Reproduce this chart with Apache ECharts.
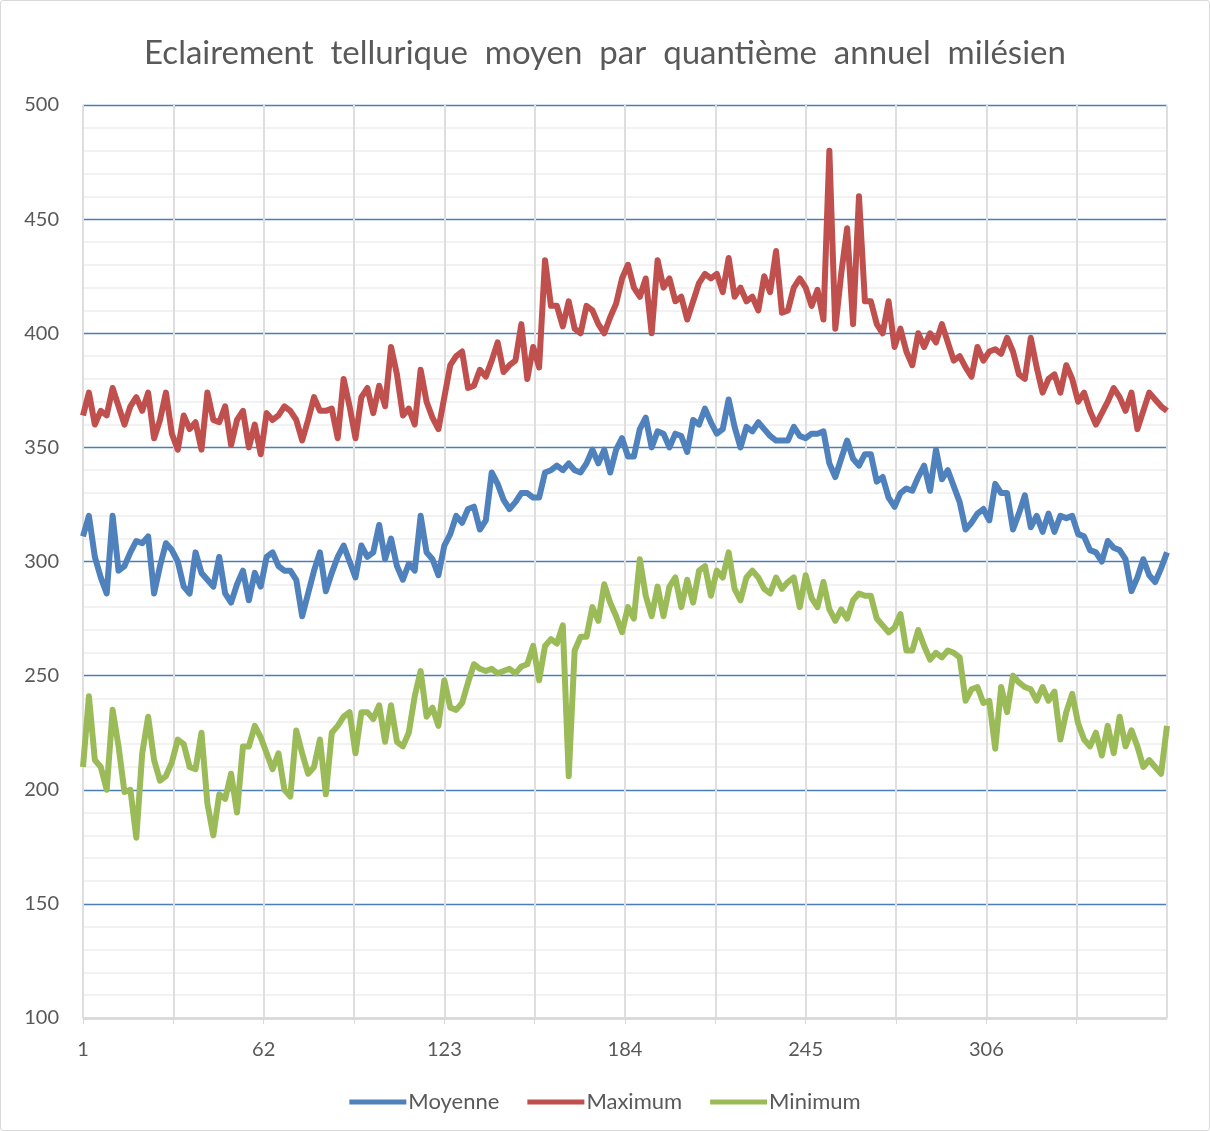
<!DOCTYPE html>
<html>
<head>
<meta charset="utf-8">
<script src="https://cdn.jsdelivr.net/npm/echarts@6/dist/echarts.min.js"></script>
<style>
  html, body { margin: 0; padding: 0; background: #fff; }
  #eclairement { width: 1210px; height: 1131px; box-sizing: border-box; border: 1px solid #d9d9d9; border-radius: 3px; }
</style>
</head>
<body>
<div id="eclairement"></div>
<script>
  // une valeur tous les deux quantièmes : 1, 3, 5 ... 367
  let moyenne = [
    311,320,302,293,286,320,296,298,304,309,308,311,286,298,308,305,300,289,286,304,295,292,289,302,286,282,290,296,283,295,289,
    302,304,298,296,296,292,276,286,296,304,287,295,302,307,300,293,307,302,304,316,301,310,298,292,299,296,320,304,301,294,
    307,312,320,317,323,324,314,318,339,334,327,323,326,330,330,328,328,339,340,342,340,343,340,339,343,349,343,349,339,349,354,
    346,346,358,363,350,357,356,350,356,355,348,362,360,367,361,356,358,371,359,350,359,357,361,358,355,353,353,353,359,355,
    354,356,356,357,343,337,345,353,345,342,347,347,335,337,328,324,330,332,331,337,342,331,349,336,340,333,326,314,317,321,
    323,318,334,330,330,314,321,329,315,320,313,321,313,320,319,320,312,311,305,304,300,309,306,305,301,287,293,301,294,291,297,304
  ];
  let maximum = [
    364,374,360,366,364,376,368,360,368,372,366,374,354,362,374,356,349,364,358,361,349,374,362,361,368,351,362,366,350,360,347,
    365,362,364,368,366,362,353,362,372,366,366,367,354,380,368,354,372,376,365,377,368,394,382,364,367,360,384,370,363,358,
    372,386,390,392,376,377,384,381,388,396,383,386,388,404,380,394,385,432,412,412,403,414,402,400,412,410,404,400,407,413,424,
    430,420,416,424,400,432,420,424,414,416,406,414,422,426,424,426,418,433,416,420,414,416,410,425,418,436,409,410,420,424,
    420,412,419,406,480,402,426,446,404,460,414,414,404,400,414,394,402,392,386,400,394,400,396,404,396,388,390,385,381,394,
    388,392,393,391,398,392,382,380,398,385,374,380,382,374,386,380,370,374,366,360,365,370,376,372,366,374,358,366,374,371,368,366
  ];
  let minimum = [
    210,241,213,210,200,235,219,199,200,179,216,232,213,204,206,212,222,220,210,209,225,194,180,198,196,207,190,219,219,228,223,
    216,209,216,200,197,226,216,207,210,222,198,225,228,232,234,216,234,234,231,237,221,237,221,219,225,241,252,232,236,228,
    248,236,235,238,247,255,253,252,253,251,252,253,251,254,255,263,248,263,266,264,272,206,261,267,267,280,274,290,282,276,269,
    280,275,301,285,276,289,276,289,293,280,292,282,296,298,285,296,293,304,288,283,293,296,293,288,286,293,288,291,293,280,
    294,284,280,291,279,274,279,275,283,286,285,285,275,272,269,271,277,261,261,270,263,257,260,258,261,260,258,239,244,245,
    238,239,218,245,234,250,247,245,244,239,245,239,243,222,234,242,229,222,219,225,215,228,216,232,219,226,219,210,213,210,207,228
  ];
  let seriesNames = ['Moyenne', 'Maximum', 'Minimum'];
  let xLabels = [1, 62, 123, 184, 245, 306];
  let days = moyenne.map(function (v, i) { return 1 + 2 * i; });

  function pairs(values) {
    return days.map(function (d, i) { return [d, values[i]]; });
  }

  let font = 'Lato, "Open Sans", sans-serif';
  let options = {
    animation: false,
    title: {
      text: 'Eclairement  tellurique  moyen  par  quantième  annuel  milésien',
      left: 'center',
      top: 31,
      textStyle: { fontFamily: font, fontSize: 33, fontWeight: 'normal', color: '#595959' }
    },
    legend: {
      data: seriesNames,
      bottom: 12,
      left: 'center',
      icon: 'rect',
      itemWidth: 57,
      itemHeight: 5,
      itemGap: 28,
      textStyle: { fontFamily: font, fontSize: 22, color: '#595959', padding: [0, 0, 0, -3] }
    },
    grid: { left: 82, right: 42, top: 104, bottom: 112 },
    xAxis: {
      type: 'value',
      min: 1,
      max: 367,
      interval: 30.5,
      axisLine: { show: true, lineStyle: { color: '#d9d9d9', width: 1 } },
      axisTick: { show: true, length: 6, lineStyle: { color: '#d9d9d9' } },
      axisLabel: {
        margin: 22,
        fontFamily: font,
        fontSize: 20,
        color: '#595959',
        showMaxLabel: false,
        formatter: function (v) {
          return xLabels.indexOf(Math.round(v)) >= 0 && Math.abs(v - Math.round(v)) < 0.01 ? String(Math.round(v)) : '';
        }
      },
      splitLine: { show: true, lineStyle: { color: '#dedede', width: 2 } }
    },
    yAxis: {
      type: 'value',
      min: 100,
      max: 500,
      interval: 50,
      axisLine: { show: false },
      axisTick: { show: false },
      axisLabel: { margin: 24, fontFamily: font, fontSize: 20, color: '#595959' },
      splitLine: { show: true, lineStyle: { color: '#4a7ebb', width: 1.3 } },
      minorTick: { show: false, splitNumber: 5 },
      minorSplitLine: { show: true, lineStyle: { color: '#eeeeee', width: 1.5 } }
    },
    series: [
      { name: 'Moyenne', type: 'line', data: pairs(moyenne), showSymbol: false, color: '#4f81bd',
        lineStyle: { width: 6, join: 'round' } },
      { name: 'Maximum', type: 'line', data: pairs(maximum), showSymbol: false, color: '#c0504d',
        lineStyle: { width: 6, join: 'round' } },
      { name: 'Minimum', type: 'line', data: pairs(minimum), showSymbol: false, color: '#9bbb59',
        lineStyle: { width: 6, join: 'round' } }
    ]
  };

  let mychart = echarts.init(document.getElementById('eclairement'));
  mychart.setOption(options);
</script>
</body>
</html>
